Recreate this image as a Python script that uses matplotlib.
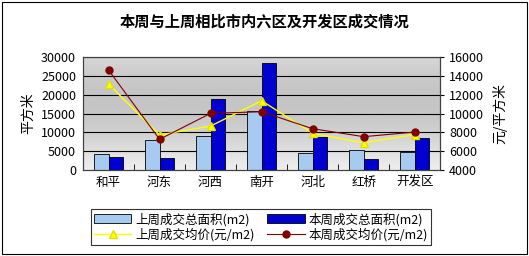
import numpy as np
import matplotlib
matplotlib.use("Agg")
from matplotlib import pyplot as plt
from matplotlib.patches import Rectangle

plt.rcParams['font.family'] = ['Noto Sans CJK SC', 'DejaVu Sans']

districts = ["和平", "河东", "河西", "南开", "河北", "红桥", "开发区"]
area_last = [4170, 7960, 9030, 15750, 4420, 5310, 4780]
area_this = [3450, 3270, 18850, 28500, 8680, 2920, 8500]
price_last = [13130, 7720, 8670, 11360, 7900, 6900, 7750]
price_this = [14620, 7260, 10020, 10190, 8390, 7540, 8030]

fig = plt.figure(figsize=(5.29, 2.56), dpi=100)
fig.patch.set_facecolor("white")
fig.add_artist(Rectangle((0.004, 0.006), 0.992, 0.988, transform=fig.transFigure,
                         fill=False, edgecolor="black", linewidth=0.8))

ax = fig.add_axes([0.157, 0.336, 0.675, 0.441])
ax2 = ax.twinx()

x = np.arange(len(districts))
w = 0.29

# gray gradient background: light at bottom, darker towards the upper middle
t = np.linspace(0, 1, 256)
grad = (0.93 - 0.16 * np.sin(np.pi * np.clip(t * 0.8, 0, 1)) ** 1.2).reshape(-1, 1)
ax.imshow(grad, extent=[-0.5, 6.5, 0, 30000], aspect="auto", cmap="gray",
          vmin=0, vmax=1, zorder=0, origin="lower")

for yv in range(5000, 30001, 5000):
    ax.axhline(yv, color="black", linewidth=0.8, zorder=1)

ax.bar(x - w / 2, area_last, w, color="#a6caf0", edgecolor="black", linewidth=0.6,
       zorder=2, label="上周成交总面积(m2)")
ax.bar(x + w / 2, area_this, w, color="#0000d0", edgecolor="black", linewidth=0.6,
       zorder=2, label="本周成交总面积(m2)")

ax2.plot(x, price_last, color="#ffff00", linewidth=1, marker="^", markersize=6,
         markerfacecolor="#ffff00", markeredgecolor="#e0e000", label="上周成交均价(元/m2)")
ax2.plot(x, price_this, color="#800000", linewidth=0.8, marker="o", markersize=5,
         markerfacecolor="#800000", markeredgecolor="#800000", label="本周成交均价(元/m2)")

ax.set_xlim(-0.5, 6.5)
ax.set_ylim(0, 30000)
ax.set_yticks(range(0, 30001, 5000))
ax2.set_ylim(4000, 16000)
ax2.set_yticks(range(4000, 16001, 2000))

ax.set_xticks(x)
ax.set_xticklabels(districts, fontsize=9)
ax.set_xticks(np.arange(-0.5, 7, 1), minor=True)
ax.tick_params(axis="x", which="major", length=0, pad=4)
ax.tick_params(axis="x", which="minor", length=4, direction="in")
ax.tick_params(axis="y", labelsize=9, length=0, pad=5)
ax2.tick_params(axis="y", labelsize=9, length=3)

ax.set_ylabel("平方米", fontsize=10, labelpad=4)
ax2.set_ylabel("元/平方米", fontsize=10, labelpad=6)

for a in (ax, ax2):
    for s in a.spines.values():
        s.set_linewidth(0.8)
        s.set_color("#404040")

fig.text(0.5, 0.915, "本周与上周相比市内六区及开发区成交情况", ha="center", va="center",
         fontsize=11, fontweight="bold")

h1, l1 = ax.get_legend_handles_labels()
h2, l2 = ax2.get_legend_handles_labels()
handles = [h1[0], h2[0], h1[1], h2[1]]
labels = [l1[0], l2[0], l1[1], l2[1]]
leg = fig.legend(handles, labels, ncol=2, loc="center", bbox_to_anchor=(0.493, 0.113),
                 fontsize=9, frameon=True, fancybox=False, edgecolor="black",
                 borderpad=0.25, handlelength=3, handletextpad=0.3, columnspacing=1.0,
                 labelspacing=0.15)
leg.get_frame().set_linewidth(0.8)

fig.savefig("out.png", dpi=100)
